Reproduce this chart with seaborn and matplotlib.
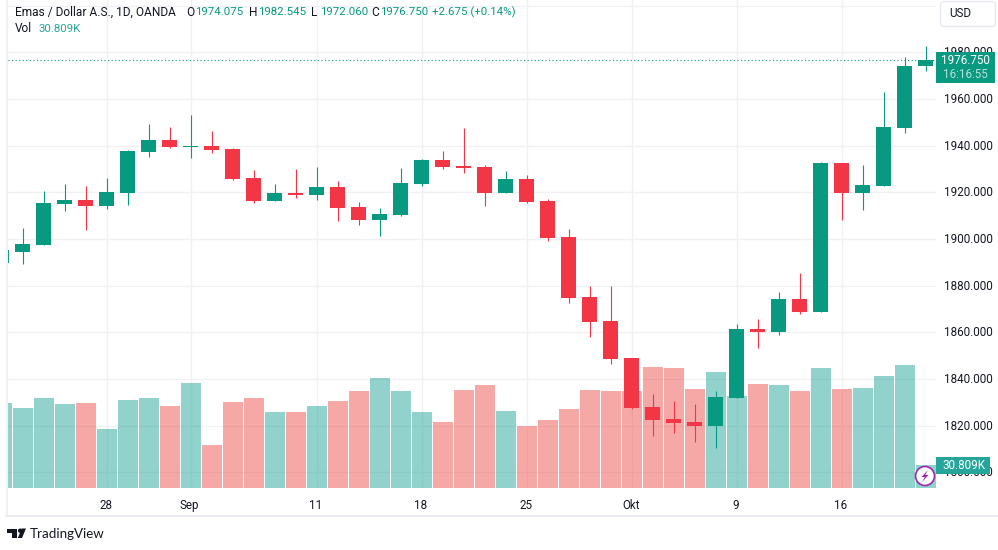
import matplotlib
matplotlib.use("Agg")
import matplotlib.pyplot as plt
from matplotlib.patches import Circle, FancyBboxPatch, Polygon, Rectangle
from matplotlib.transforms import ScaledTranslation
import pandas as pd
import seaborn as sns

# ---- Data ----
opens = [1889.5, 1894.4, 1897.4, 1915.0, 1916.7, 1914.1, 1919.7, 1937.3, 1942.4, 1939.4,
         1939.8, 1938.6, 1926.1, 1916.3, 1919.7, 1918.9, 1922.3, 1913.7, 1908.1, 1910.3,
         1923.6, 1933.8, 1931.3, 1930.9, 1919.7, 1925.7, 1916.3, 1900.8, 1875.1, 1864.9,
         1849.0, 1828.0, 1822.8, 1821.6, 1819.8, 1831.8, 1861.4, 1860.1, 1874.3, 1868.7,
         1932.5, 1919.7, 1922.7, 1947.6, 1974.075]
closes = [1895.2, 1897.8, 1915.4, 1916.7, 1914.1, 1920.1, 1937.7, 1942.4, 1939.4, 1939.8,
          1938.1, 1925.7, 1916.3, 1919.7, 1918.9, 1922.3, 1913.3, 1908.1, 1910.7, 1924.0,
          1933.8, 1930.9, 1930.4, 1919.7, 1925.7, 1915.8, 1900.4, 1874.7, 1864.4, 1848.6,
          1827.6, 1822.4, 1821.1, 1819.8, 1832.3, 1861.4, 1860.1, 1874.3, 1868.7, 1932.5,
          1919.7, 1923.1, 1948.0, 1974.1, 1976.75]
highs = [1896.0, 1904.7, 1920.5, 1923.5, 1922.7, 1926.1, 1938.1, 1949.3, 1948.0, 1953.1,
         1946.3, 1939.0, 1929.6, 1923.6, 1930.0, 1930.9, 1924.8, 1915.8, 1913.3, 1930.4,
         1934.3, 1937.7, 1947.6, 1931.7, 1929.1, 1927.4, 1917.1, 1904.3, 1879.8, 1879.8,
         1849.0, 1833.6, 1830.6, 1829.3, 1834.8, 1863.6, 1865.7, 1877.3, 1885.4, 1933.0,
         1932.5, 1931.7, 1963.0, 1978.0, 1982.545]
lows = [1889.0, 1889.3, 1897.4, 1912.0, 1903.8, 1912.8, 1914.6, 1935.1, 1939.0, 1934.7,
        1936.8, 1925.3, 1915.4, 1916.3, 1917.6, 1916.7, 1907.7, 1906.0, 1901.3, 1909.9,
        1922.7, 1930.0, 1928.3, 1914.1, 1919.7, 1915.4, 1899.1, 1872.6, 1858.0, 1846.4,
        1827.1, 1815.6, 1816.8, 1813.0, 1810.4, 1831.8, 1853.3, 1858.8, 1867.8, 1868.7,
        1908.1, 1912.4, 1922.7, 1945.4, 1972.06]
volumes = [113.9, 107.2, 120.6, 112.6, 113.9, 79.1, 117.9, 120.6, 109.9, 140.7,
           57.6, 115.2, 120.6, 101.8, 101.8, 109.9, 116.6, 130.0, 147.4, 130.0,
           101.8, 88.4, 131.3, 138.0, 103.2, 83.1, 91.1, 105.9, 131.3, 130.0,
           130.0, 162.1, 160.8, 132.7, 155.4, 123.3, 139.4, 138.0, 130.0, 160.8,
           132.7, 134.0, 150.1, 164.8, 30.809]

price_ticks = [1800, 1820, 1840, 1860, 1880, 1900, 1920, 1940, 1960, 1980, 2000]
price_labels = ["1800.000", "1820.000", "1840.000", "1860.000", "1880.000", "1900.000",
                "1920.000", "1940.000", "1960.000", "1980.000", ""]
date_ticks = [5, 9, 15, 20, 25, 30, 35, 40]
date_labels = ["28", "Sep", "11", "18", "25", "Okt", "9", "16"]
last_close = 1976.75

GREEN = "#089981"
RED = "#F23645"
VOL_GREEN = "#26a69a"
VOL_RED = "#ef5350"
GRID = "#F0F1F5"
TEXT = "#131722"

df = pd.DataFrame({"open": opens, "close": closes, "high": highs, "low": lows, "volume": volumes})
df["day"] = range(len(df))
df["dir"] = ["up" if c >= o else "down" for o, c in zip(df["open"], df["close"])]

# ---- Plotting ----
sns.set_theme(style="white")
plt.rcParams["font.family"] = ["Roboto", "DejaVu Sans"]

W, H = 998, 550
XLIM = (0.30, 44.49)
fig = plt.figure(figsize=(W / 100, H / 100), dpi=100, facecolor="white")
pos = [8 / W, 1 - 488 / H, (936 - 8) / W, 488 / H]

# base axes holds the grid and tick labels, volume sits over it, candles on top
ax = fig.add_axes(pos)
ax.set_ylim(1793.3, 2002.4)

ax_vol = ax.twinx()
sns.barplot(data=df, x="day", y="volume", hue="dir", dodge=False, native_scale=True,
            palette={"up": VOL_GREEN, "down": VOL_RED}, saturation=1, alpha=0.5,
            width=20 / 21, linewidth=0, legend=False, ax=ax_vol)
ax_vol.set_xlim(XLIM)
ax_vol.set_ylim(0, 488 * 1.34)
ax_vol.set_yticks([])
ax_vol.set_xlabel("")
ax_vol.set_ylabel("")
sns.despine(ax=ax_vol, left=True, bottom=True, right=True)
ax_vol.patch.set_visible(False)

ax_c = ax.twinx()
ax_c.set_ylim(ax.get_ylim())
ax_c.set_yticks([])
ax_c.patch.set_visible(False)
sns.despine(ax=ax_c, left=True, bottom=True, right=True)
colors = [GREEN if d == "up" else RED for d in df["dir"]]
ax_c.vlines(df["day"], df["low"], df["high"], colors=colors, linewidth=0.8)
ax_c.bar(df["day"], (df["close"] - df["open"]).abs(), bottom=df[["open", "close"]].min(axis=1),
         width=15 / 21, color=colors, linewidth=0)
ax_c.axhline(last_close, color=GREEN, linewidth=0.8, linestyle=(0, (1, 2.2)))
ax_c.set_xlim(XLIM)

# twinx resets the tick side, so the ticks and grid go on last
ax.set_yticks(price_ticks, price_labels)
ax.set_xticks(date_ticks, date_labels)
ax.set_xlim(XLIM)
ax.yaxis.tick_right()
ax.tick_params(axis="y", length=0, pad=6, labelsize=8.4, labelcolor=TEXT)
ax.tick_params(axis="x", length=0, pad=8, labelsize=8.4, labelcolor=TEXT)
ax.yaxis.grid(True, color=GRID, linewidth=1.0)
for d in date_ticks:
    ax.axvline(d, color=GRID, linewidth=1.0, zorder=0)
ax.set_axisbelow(True)
sns.despine(ax=ax, left=True, bottom=True)

# nudge tick labels by one pixel
for lab in ax.get_yticklabels():
    lab.set_transform(lab.get_transform() + ScaledTranslation(0, 1 / 100, fig.dpi_scale_trans))
for lab in ax.get_xticklabels():
    lab.set_transform(lab.get_transform() + ScaledTranslation(-1 / 100, 0, fig.dpi_scale_trans))

# overlay in pixel coordinates for the chart furniture
ov = fig.add_axes([0, 0, 1, 1], zorder=10)
ov.set_xlim(0, W)
ov.set_ylim(H, 0)
ov.axis("off")

ov.plot([7, 7], [0, 516], color="#F0F0F5", linewidth=1.5)
ov.plot([6.5, W], [516, 516], color="#EBEBF2", linewidth=1.5)

# legend line
fs = 8.6
fv = 8.25
ov.text(15, 12, "Emas / Dollar A.S., 1D, OANDA", fontsize=fs, color=TEXT, va="center")
for lab, x_lab, val, x_val in [("O", 186, "1974.075", 195), ("H", 249, "1982.545", 258),
                               ("L", 311, "1972.060", 320), ("C", 371, "1976.750", 380)]:
    ov.text(x_lab, 12, lab, fontsize=fs, color=TEXT, va="center")
    ov.text(x_val, 12, val, fontsize=fv, color=GREEN, va="center")
ov.text(432, 12, "+2.675 (+0.14%)", fontsize=fv, color=GREEN, va="center")
ov.text(15, 29, "Vol", fontsize=fs, color=TEXT, va="center")
ov.text(39, 29, "30.809K", fontsize=fv, color=VOL_GREEN, va="center")

# currency button
ov.add_patch(FancyBboxPatch((940.5, 1.5), 55, 25, boxstyle="round,pad=0,rounding_size=4",
                            facecolor="white", edgecolor="#E6E8F0", linewidth=1))
ov.text(949, 13.5, "USD", fontsize=8.4, color=TEXT, va="center")

# last price and volume labels
ov.add_patch(Rectangle((936, 52), 59, 31, facecolor=GREEN, edgecolor="none"))
ov.text(990, 60.5, "1976.750", fontsize=8.4, color="white", ha="right", va="center")
ov.text(988, 74.5, "16:16:55", fontsize=8.4, color="#B5E0D9", ha="right", va="center")
ov.add_patch(Rectangle((936, 457), 54, 17, facecolor=VOL_GREEN, edgecolor="none"))
ov.text(985, 465.5, "30.809K", fontsize=8.4, color="white", ha="right", va="center")

# lightning marker
ov.add_patch(Circle((925, 476), 9.5, facecolor="white", edgecolor="#9C27B0", linewidth=1.2))
ov.add_patch(Polygon([(928, 470), (921.5, 477), (924.8, 477), (922, 482), (928.5, 475),
                      (925.2, 475)], closed=True, facecolor="#9C27B0", edgecolor="none"))

# logo
ov.add_patch(Polygon([(7.5, 528.5), (17.5, 528.5), (17.5, 538), (12.5, 538), (12.5, 533), (7.5, 533)],
                     closed=True, facecolor=TEXT, edgecolor="none"))
ov.add_patch(Circle((20.2, 530.7), 2.2, facecolor=TEXT, edgecolor="none"))
ov.add_patch(Polygon([(26, 528.5), (22, 538), (17.8, 538), (21.8, 528.5)],
                     closed=True, facecolor=TEXT, edgecolor="none"))
ov.text(30, 534, "TradingView", fontsize=9.6, color=TEXT, va="center", family=["Lato", "DejaVu Sans"])

fig.savefig("out.png", dpi=100)
plt.close(fig)
